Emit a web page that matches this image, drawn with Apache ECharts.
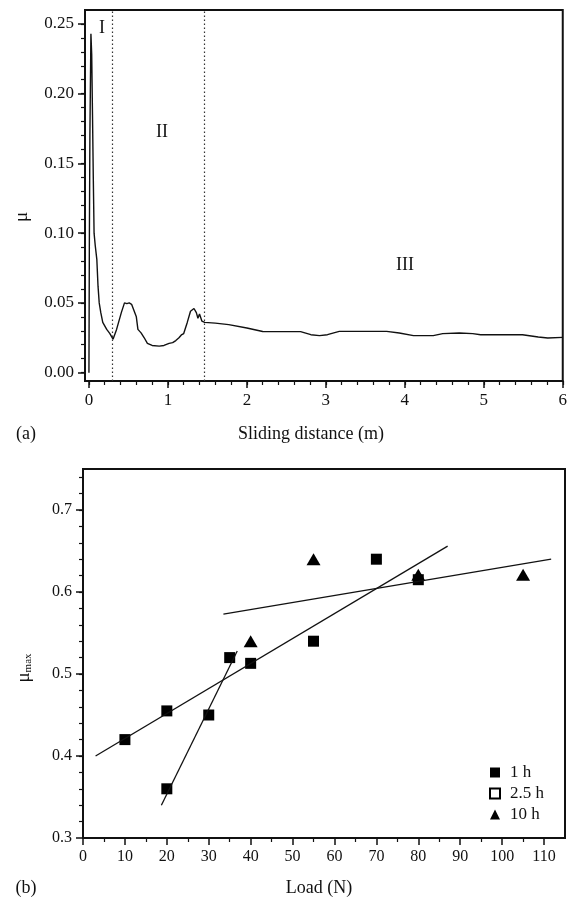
<!DOCTYPE html>
<html>
<head>
<meta charset="utf-8">
<script src="https://cdn.jsdelivr.net/npm/echarts@6/dist/echarts.min.js"></script>
<style>
  html, body { margin: 0; padding: 0; background: #fff; }
  #main { width: 570px; height: 901px; }
</style>
</head>
<body>
<div id="main"></div>
<script>
// (a) friction coefficient vs sliding distance
const distance = [0, 0.005, 0.012, 0.025, 0.035, 0.045, 0.055, 0.065, 0.08, 0.10, 0.115, 0.13, 0.15, 0.175, 0.225, 0.265,
  0.305, 0.35, 0.41, 0.45, 0.48, 0.51, 0.54, 0.56, 0.60, 0.62, 0.66, 0.70, 0.74, 0.80, 0.89, 0.95, 1.015, 1.06, 1.10,
  1.14, 1.17, 1.20, 1.245, 1.286, 1.33, 1.36, 1.38, 1.40, 1.43, 1.466, 1.60, 1.77, 2.00, 2.20, 2.39, 2.68, 2.81, 2.92,
  3.02, 3.17, 3.77, 3.93, 4.11, 4.36, 4.48, 4.69, 4.86, 4.96, 5.49, 5.69, 5.81, 6.00];
const mu = [0.000, 0.090, 0.170, 0.243, 0.228, 0.185, 0.140, 0.100, 0.091, 0.081, 0.062, 0.050, 0.043, 0.036, 0.031, 0.028,
  0.024, 0.031, 0.043, 0.050, 0.0495, 0.050, 0.049, 0.049, 0.040, 0.031, 0.0285, 0.025, 0.021, 0.0195, 0.019, 0.0195, 0.021, 0.0215, 0.023,
  0.025, 0.027, 0.028, 0.036, 0.044, 0.046, 0.043, 0.039, 0.042, 0.037, 0.036, 0.0355, 0.0344, 0.032, 0.0295, 0.0294, 0.0294, 0.0272, 0.0265,
  0.0272, 0.0296, 0.0296, 0.0284, 0.0265, 0.0265, 0.028, 0.0284, 0.028, 0.0272, 0.0272, 0.0255, 0.0248, 0.0253];
const stageBounds = [0.305, 1.46]; // dotted lines between stages I / II / III

// (b) mu_max vs load
const load1h = [10, 20, 20, 30, 35, 40, 55, 70, 80];
const muMax1h = [0.42, 0.455, 0.36, 0.45, 0.52, 0.513, 0.54, 0.64, 0.615];
const load25h = [];
const muMax25h = [];
const load10h = [40, 55, 80, 105];
const muMax10h = [0.54, 0.64, 0.621, 0.621];
// fitted lines (end points)
const fitA = { x: [3, 87], y: [0.40, 0.656] };
const fitB = { x: [18.7, 36.8], y: [0.34, 0.528] };
const fitC = { x: [33.5, 111.7], y: [0.573, 0.640] };

// tick labels
const distTicks = [0, 1, 2, 3, 4, 5, 6];
const muTicks = [0, 0.05, 0.10, 0.15, 0.20, 0.25];
const loadTicks = [0, 10, 20, 30, 40, 50, 60, 70, 80, 90, 100, 110];
const muMaxTicks = [0.3, 0.4, 0.5, 0.6, 0.7];

// minor tick positions
function steps(from, to, step) {
  const out = [];
  const n = Math.round((to - from) / step);
  for (let i = 0; i <= n; i++) out.push(+(from + i * step).toFixed(4));
  return out;
}

const FONT = '"Liberation Serif", "DejaVu Serif", serif';
const INK = '#111';

function zip(xs, ys) {
  return xs.map((x, i) => [x, ys[i]]);
}

function mainAxis(gridIndex, min, max, ticks, fmt, position, size) {
  return {
    gridIndex: gridIndex,
    type: 'value',
    position: position,
    min: min,
    max: max,
    axisLine: { show: true, onZero: false, lineStyle: { color: INK, width: 2 } },
    axisTick: { show: true, customValues: ticks, length: 7, lineStyle: { color: INK, width: 1.5 } },
    axisLabel: {
      customValues: ticks, margin: 11, color: INK, fontSize: size || 16, fontFamily: FONT,
      formatter: fmt
    },
    splitLine: { show: false }
  };
}

function minorAxis(gridIndex, min, max, ticks, position) {
  return {
    gridIndex: gridIndex,
    type: 'value',
    position: position,
    min: min,
    max: max,
    axisLine: { show: false, onZero: false },
    axisTick: { show: true, customValues: ticks, length: 4, lineStyle: { color: INK, width: 1.2 } },
    axisLabel: { show: false },
    splitLine: { show: false }
  };
}

function text(x, y, str, size, rot) {
  return {
    type: 'text',
    x: x,
    y: y,
    rotation: rot || 0,
    style: { text: str, x: 0, y: 0, fill: INK, font: size + 'px ' + FONT, textAlign: 'center', textVerticalAlign: 'middle' }
  };
}

var chartDom = document.getElementById('main');
var myChart = echarts.init(chartDom, null, { renderer: 'canvas' });

var fitStyle = { color: INK, width: 1.3 };

var option = {
  animation: false,
  backgroundColor: '#fff',
  grid: [
    { left: 85, right: 2, top: 10, bottom: 520, show: true, borderColor: INK, borderWidth: 2 },
    { left: 83, right: 5, top: 469, bottom: 63, show: true, borderColor: INK, borderWidth: 2 }
  ],
  xAxis: [
    mainAxis(0, -0.05, 6, distTicks, v => String(v), 'bottom', 17),
    minorAxis(0, -0.05, 6, steps(0, 6, 0.2), 'bottom'),
    mainAxis(1, 0, 115, loadTicks, v => String(v), 'bottom', 16),
    minorAxis(1, 0, 115, steps(5, 105, 10), 'bottom')
  ],
  yAxis: [
    mainAxis(0, -0.006, 0.26, muTicks, v => v.toFixed(2), 'left', 17),
    minorAxis(0, -0.006, 0.26, steps(0, 0.25, 0.01), 'left'),
    mainAxis(1, 0.3, 0.75, muMaxTicks, v => v.toFixed(1), 'left', 16),
    minorAxis(1, 0.3, 0.75, steps(0.32, 0.74, 0.02), 'left')
  ],
  legend: {
    orient: 'vertical',
    left: 484,
    top: 759,
    itemWidth: 10,
    itemHeight: 10,
    itemGap: 4,
    textStyle: { color: INK, fontSize: 17, fontFamily: FONT, padding: [0, 0, 0, 5] },
    data: [
      { name: '1 h', icon: 'rect' },
      { name: '2.5 h', icon: 'rect' },
      { name: '10 h', icon: 'triangle' }
    ]
  },
  series: [
    {
      name: 'mu',
      type: 'line',
      xAxisIndex: 0,
      yAxisIndex: 0,
      data: zip(distance, mu),
      showSymbol: false,
      lineStyle: { color: INK, width: 1.4 },
      markLine: {
        silent: true,
        symbol: ['none', 'none'],
        label: { show: false },
        lineStyle: { color: '#333', width: 1.2, type: [1.5, 2.5] },
        data: stageBounds.map(b => ({ xAxis: b }))
      }
    },
    { name: 'fitA', type: 'line', xAxisIndex: 2, yAxisIndex: 2, data: zip(fitA.x, fitA.y), showSymbol: false, lineStyle: fitStyle },
    { name: 'fitB', type: 'line', xAxisIndex: 2, yAxisIndex: 2, data: zip(fitB.x, fitB.y), showSymbol: false, lineStyle: fitStyle },
    { name: 'fitC', type: 'line', xAxisIndex: 2, yAxisIndex: 2, data: zip(fitC.x, fitC.y), showSymbol: false, lineStyle: fitStyle },
    {
      name: '1 h', type: 'scatter', xAxisIndex: 2, yAxisIndex: 2,
      symbol: 'rect', symbolSize: 11,
      itemStyle: { color: '#000', opacity: 1 },
      data: zip(load1h, muMax1h)
    },
    {
      name: '2.5 h', type: 'scatter', xAxisIndex: 2, yAxisIndex: 2,
      symbol: 'rect', symbolSize: 11,
      itemStyle: { color: '#fff', borderColor: '#000', borderWidth: 1, opacity: 1 },
      data: zip(load25h, muMax25h)
    },
    {
      name: '10 h', type: 'scatter', xAxisIndex: 2, yAxisIndex: 2,
      symbol: 'triangle', symbolSize: [14, 12],
      itemStyle: { color: '#000', opacity: 1 },
      data: zip(load10h, muMax10h)
    }
  ],
  graphic: [
    text(102, 28, 'I', 18),
    text(162, 132, 'II', 18),
    text(405, 265, 'III', 18),
    text(22, 217, 'μ', 19, Math.PI / 2),
    text(26, 434, '(a)', 18),
    text(311, 434, 'Sliding distance (m)', 18),
    {
      type: 'text',
      x: 24,
      y: 668,
      rotation: Math.PI / 2,
      style: {
        text: '{m|μ}{s|max}',
        x: 0, y: 0,
        textAlign: 'center',
        textVerticalAlign: 'middle',
        fill: INK,
        rich: {
          m: { fontSize: 19, fontFamily: FONT, fill: INK },
          s: { fontSize: 11, fontFamily: FONT, fill: INK, padding: [8, 0, 0, 0] }
        }
      }
    },
    text(26, 888, '(b)', 18),
    text(319, 888, 'Load (N)', 18)
  ]
};

option && myChart.setOption(option);
</script>
</body>
</html>
